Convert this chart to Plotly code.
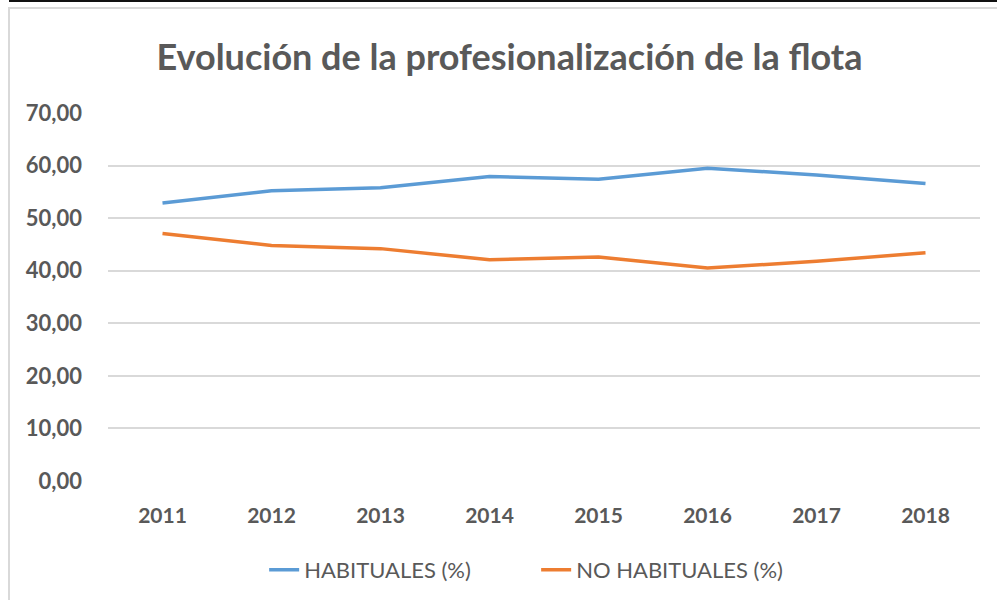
import plotly.graph_objects as go

years = ["2011", "2012", "2013", "2014", "2015", "2016", "2017", "2018"]
habituales = [52.9, 55.2, 55.8, 57.9, 57.4, 59.5, 58.2, 56.6]
no_habituales = [47.1, 44.8, 44.2, 42.1, 42.6, 40.5, 41.8, 43.4]
y_ticks = [0, 10, 20, 30, 40, 50, 60, 70]
y_tick_labels = ["0,00", "10,00", "20,00", "30,00", "40,00", "50,00", "60,00", "70,00"]

fig = go.Figure()
fig.add_trace(go.Scatter(x=years, y=habituales, mode="lines", name="HABITUALES (%)",
                         line=dict(color="#5B9BD5", width=3.5)))
fig.add_trace(go.Scatter(x=years, y=no_habituales, mode="lines", name="NO HABITUALES (%)",
                         line=dict(color="#ED7D31", width=3.5)))

fig.update_layout(
    width=997, height=600,
    margin=dict(l=108, r=17, t=113, b=119, autoexpand=False),
    paper_bgcolor="white", plot_bgcolor="white",
    title=dict(text="Evolución de la profesionalización de la flota",
               x=0.511, xanchor="center", y=0.905, yanchor="middle",
               font=dict(family="Lato", size=36, color="#595959", weight="bold")),
    font=dict(family="Lato", color="#595959"),
    showlegend=True,
    legend=dict(orientation="h", x=0.491, xanchor="center", y=-0.242, yanchor="middle",
                font=dict(family="Lato", size=22, color="#595959"),
                itemwidth=30, tracegroupgap=0, entrywidth=227, entrywidthmode="pixels"),
    xaxis=dict(type="category", range=[-0.5, 7.5], showgrid=False, showline=False,
               zeroline=False, ticks="", ticklabelstandoff=20,
               tickfont=dict(family="Lato", size=21, color="#595959", weight="bold")),
    yaxis=dict(range=[0, 70], tickvals=y_ticks, ticktext=y_tick_labels,
               showgrid=True, gridcolor="#d9d9d9", gridwidth=1.5, zeroline=False,
               showline=False, ticks="", ticklabelstandoff=25,
               tickfont=dict(family="Lato", size=22, color="#595959", weight="bold")),
)

# chart frame and top rule
fig.add_shape(type="rect", xref="paper", yref="paper",
              x0=(9 - 108) / 872, x1=(1005 - 108) / 872,
              y0=(481 - 610) / 368, y1=(481 - 8) / 368,
              line=dict(color="#d9d9d9", width=2), layer="below")
fig.add_shape(type="line", xref="paper", yref="paper",
              x0=(9 - 108) / 872, x1=(1000 - 108) / 872,
              y0=(481 - 1) / 368, y1=(481 - 1) / 368,
              line=dict(color="#111111", width=2))

fig.write_html("out.html")
